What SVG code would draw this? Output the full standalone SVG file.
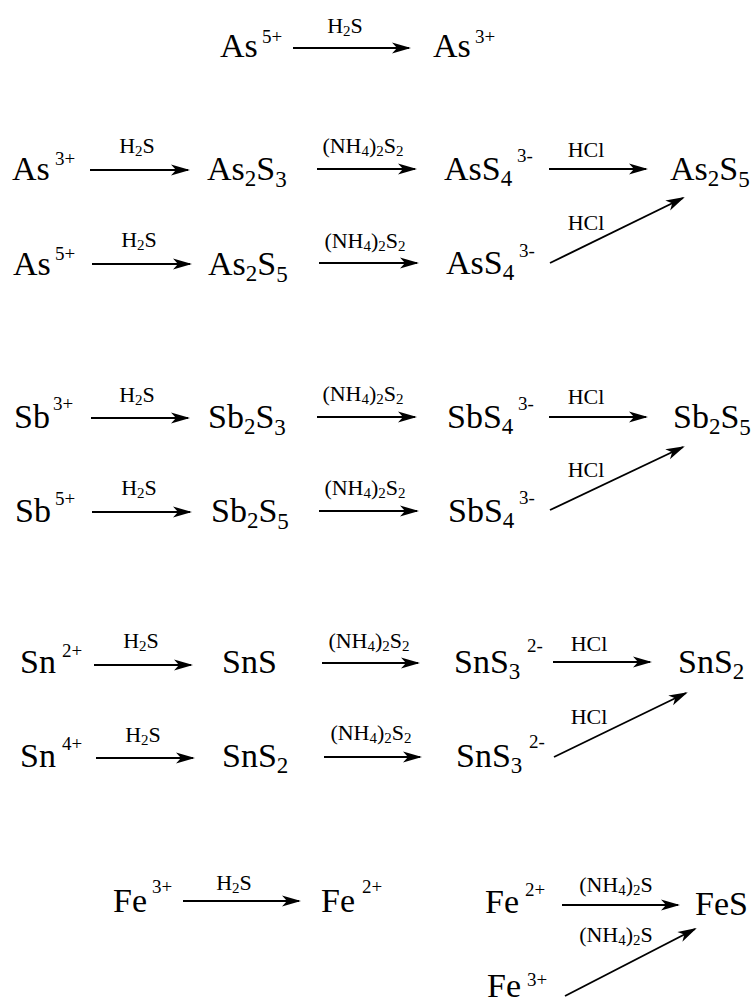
<svg xmlns="http://www.w3.org/2000/svg" width="754" height="1006" viewBox="0 0 754 1006">
<style>
text{font-family:"Liberation Serif","Times New Roman",serif;fill:#000}
.m{font-size:34px}
.sp{font-size:19px}
.sb{font-size:23px}
.lb{font-size:22px}
.ls{font-size:15px}
.a{stroke:#000;stroke-width:1.9;fill:none;marker-end:url(#ah)}
</style>
<defs>
<marker id="ah" markerUnits="userSpaceOnUse" markerWidth="22" markerHeight="14" refX="17" refY="5.5" orient="auto" overflow="visible">
<path d="M0,0 L19,5.5 L0,11 L5,5.5 Z" fill="#000"/>
</marker>
</defs>
<rect width="754" height="1006" fill="#fff"/>
<g id="connectors">
<line class="a" x1="293" y1="48" x2="409" y2="48"/>
<line class="a" x1="90" y1="170" x2="188" y2="170"/>
<line class="a" x1="317" y1="169" x2="415" y2="169"/>
<line class="a" x1="549" y1="169" x2="646" y2="169"/>
<line class="a" x1="92" y1="264" x2="190" y2="264"/>
<line class="a" x1="319" y1="263" x2="417" y2="263"/>
<line class="a" x1="550" y1="263" x2="683" y2="198"/>
<line class="a" x1="91" y1="418" x2="188" y2="418"/>
<line class="a" x1="317" y1="417" x2="415" y2="417"/>
<line class="a" x1="549" y1="417" x2="646" y2="417"/>
<line class="a" x1="92" y1="512" x2="190" y2="512"/>
<line class="a" x1="319" y1="511" x2="417" y2="511"/>
<line class="a" x1="550" y1="510" x2="683" y2="447"/>
<line class="a" x1="94" y1="665" x2="191" y2="665"/>
<line class="a" x1="322" y1="663" x2="418" y2="663"/>
<line class="a" x1="553" y1="662" x2="650" y2="662"/>
<line class="a" x1="96" y1="758" x2="193" y2="758"/>
<line class="a" x1="324" y1="757" x2="420" y2="757"/>
<line class="a" x1="554" y1="757" x2="686" y2="693"/>
<line class="a" x1="183" y1="901" x2="299" y2="901"/>
<line class="a" x1="562" y1="905" x2="678" y2="905"/>
<line class="a" x1="565" y1="996" x2="695" y2="929"/>
</g>
<g id="labels">
<text class="lb" x="345" y="33" text-anchor="middle">H<tspan class="ls" dy="3">2</tspan><tspan dy="-3">S</tspan></text>
<text class="lb" x="137" y="153" text-anchor="middle">H<tspan class="ls" dy="3">2</tspan><tspan dy="-3">S</tspan></text>
<text class="lb" x="139" y="247" text-anchor="middle">H<tspan class="ls" dy="3">2</tspan><tspan dy="-3">S</tspan></text>
<text class="lb" x="363" y="153" text-anchor="middle">(NH<tspan class="ls" dy="3">4</tspan><tspan dy="-3">)</tspan><tspan class="ls" dy="3">2</tspan><tspan dy="-3">S</tspan><tspan class="ls" dy="3">2</tspan></text>
<text class="lb" x="365" y="248" text-anchor="middle">(NH<tspan class="ls" dy="3">4</tspan><tspan dy="-3">)</tspan><tspan class="ls" dy="3">2</tspan><tspan dy="-3">S</tspan><tspan class="ls" dy="3">2</tspan></text>
<text class="lb" x="586" y="157" text-anchor="middle">HCl</text>
<text class="lb" x="586" y="230" text-anchor="middle">HCl</text>
<text class="lb" x="137" y="402" text-anchor="middle">H<tspan class="ls" dy="3">2</tspan><tspan dy="-3">S</tspan></text>
<text class="lb" x="139" y="495" text-anchor="middle">H<tspan class="ls" dy="3">2</tspan><tspan dy="-3">S</tspan></text>
<text class="lb" x="363" y="401" text-anchor="middle">(NH<tspan class="ls" dy="3">4</tspan><tspan dy="-3">)</tspan><tspan class="ls" dy="3">2</tspan><tspan dy="-3">S</tspan><tspan class="ls" dy="3">2</tspan></text>
<text class="lb" x="365" y="495" text-anchor="middle">(NH<tspan class="ls" dy="3">4</tspan><tspan dy="-3">)</tspan><tspan class="ls" dy="3">2</tspan><tspan dy="-3">S</tspan><tspan class="ls" dy="3">2</tspan></text>
<text class="lb" x="586" y="404" text-anchor="middle">HCl</text>
<text class="lb" x="586" y="477" text-anchor="middle">HCl</text>
<text class="lb" x="141" y="648" text-anchor="middle">H<tspan class="ls" dy="3">2</tspan><tspan dy="-3">S</tspan></text>
<text class="lb" x="143" y="742" text-anchor="middle">H<tspan class="ls" dy="3">2</tspan><tspan dy="-3">S</tspan></text>
<text class="lb" x="369" y="648" text-anchor="middle">(NH<tspan class="ls" dy="3">4</tspan><tspan dy="-3">)</tspan><tspan class="ls" dy="3">2</tspan><tspan dy="-3">S</tspan><tspan class="ls" dy="3">2</tspan></text>
<text class="lb" x="371" y="740" text-anchor="middle">(NH<tspan class="ls" dy="3">4</tspan><tspan dy="-3">)</tspan><tspan class="ls" dy="3">2</tspan><tspan dy="-3">S</tspan><tspan class="ls" dy="3">2</tspan></text>
<text class="lb" x="589" y="651" text-anchor="middle">HCl</text>
<text class="lb" x="589" y="724" text-anchor="middle">HCl</text>
<text class="lb" x="234" y="890" text-anchor="middle">H<tspan class="ls" dy="3">2</tspan><tspan dy="-3">S</tspan></text>
<text class="lb" x="616" y="892" text-anchor="middle">(NH<tspan class="ls" dy="3">4</tspan><tspan dy="-3">)</tspan><tspan class="ls" dy="3">2</tspan><tspan dy="-3">S</tspan></text>
<text class="lb" x="616" y="942" text-anchor="middle">(NH<tspan class="ls" dy="3">4</tspan><tspan dy="-3">)</tspan><tspan class="ls" dy="3">2</tspan><tspan dy="-3">S</tspan></text>
</g>
<g id="n-top-as5"><text class="m" x="220" y="57">As<tspan class="sp" x="262" y="43">5+</tspan></text></g>
<g id="n-top-as3"><text class="m" x="433" y="57">As<tspan class="sp" x="475" y="43">3+</tspan></text></g>
<g id="n-as3"><text class="m" x="12" y="180">As<tspan class="sp" x="55" y="165">3+</tspan></text></g>
<g id="n-as2s3"><text class="m" x="207" y="180">As<tspan class="sb" dy="6">2</tspan><tspan dy="-6">S</tspan><tspan class="sb" dy="7">3</tspan></text></g>
<g id="n-ass4-a"><text class="m" x="444" y="180">AsS<tspan class="sb" dy="6">4</tspan><tspan class="sp" x="517" y="162">3-</tspan></text></g>
<g id="n-as2s5-r"><text class="m" x="670" y="180">As<tspan class="sb" dy="6">2</tspan><tspan dy="-6">S</tspan><tspan class="sb" dy="7">5</tspan></text></g>
<g id="n-as5"><text class="m" x="13" y="275">As<tspan class="sp" x="55" y="260">5+</tspan></text></g>
<g id="n-as2s5"><text class="m" x="208" y="275">As<tspan class="sb" dy="6">2</tspan><tspan dy="-6">S</tspan><tspan class="sb" dy="7">5</tspan></text></g>
<g id="n-ass4-b"><text class="m" x="446" y="274">AsS<tspan class="sb" dy="6">4</tspan><tspan class="sp" x="519" y="257">3-</tspan></text></g>
<g id="n-sb3"><text class="m" x="14" y="428">Sb<tspan class="sp" x="53" y="410">3+</tspan></text></g>
<g id="n-sb2s3"><text class="m" x="208" y="428">Sb<tspan class="sb" dy="6">2</tspan><tspan dy="-6">S</tspan><tspan class="sb" dy="7">3</tspan></text></g>
<g id="n-sbs4-a"><text class="m" x="447" y="428">SbS<tspan class="sb" dy="6">4</tspan><tspan class="sp" x="518" y="410">3-</tspan></text></g>
<g id="n-sb2s5-r"><text class="m" x="673" y="428">Sb<tspan class="sb" dy="6">2</tspan><tspan dy="-6">S</tspan><tspan class="sb" dy="7">5</tspan></text></g>
<g id="n-sb5"><text class="m" x="15" y="522">Sb<tspan class="sp" x="55" y="505">5+</tspan></text></g>
<g id="n-sb2s5"><text class="m" x="211" y="522">Sb<tspan class="sb" dy="6">2</tspan><tspan dy="-6">S</tspan><tspan class="sb" dy="7">5</tspan></text></g>
<g id="n-sbs4-b"><text class="m" x="448" y="522">SbS<tspan class="sb" dy="6">4</tspan><tspan class="sp" x="519" y="504">3-</tspan></text></g>
<g id="n-sn2"><text class="m" x="20" y="673">Sn<tspan class="sp" x="62" y="657">2+</tspan></text></g>
<g id="n-sns"><text class="m" x="222" y="673">SnS</text></g>
<g id="n-sns3-a"><text class="m" x="454" y="673">SnS<tspan class="sb" dy="6">3</tspan><tspan class="sp" x="527" y="652">2-</tspan></text></g>
<g id="n-sns2-r"><text class="m" x="678" y="673">SnS<tspan class="sb" dy="6">2</tspan></text></g>
<g id="n-sn4"><text class="m" x="20" y="767">Sn<tspan class="sp" x="62" y="750">4+</tspan></text></g>
<g id="n-sns2"><text class="m" x="222" y="767">SnS<tspan class="sb" dy="6">2</tspan></text></g>
<g id="n-sns3-b"><text class="m" x="456" y="767">SnS<tspan class="sb" dy="6">3</tspan><tspan class="sp" x="529" y="748">2-</tspan></text></g>
<g id="n-fe3-a"><text class="m" x="113" y="912">Fe<tspan class="sp" x="152" y="893">3+</tspan></text></g>
<g id="n-fe2-a"><text class="m" x="321" y="912">Fe<tspan class="sp" x="362" y="893">2+</tspan></text></g>
<g id="n-fe2-b"><text class="m" x="485" y="913">Fe<tspan class="sp" x="525" y="896">2+</tspan></text></g>
<g id="n-fes"><text class="m" x="695" y="915">FeS</text></g>
<g id="n-fe3-b"><text class="m" x="487" y="997">Fe<tspan class="sp" x="527" y="986">3+</tspan></text></g>
</svg>
